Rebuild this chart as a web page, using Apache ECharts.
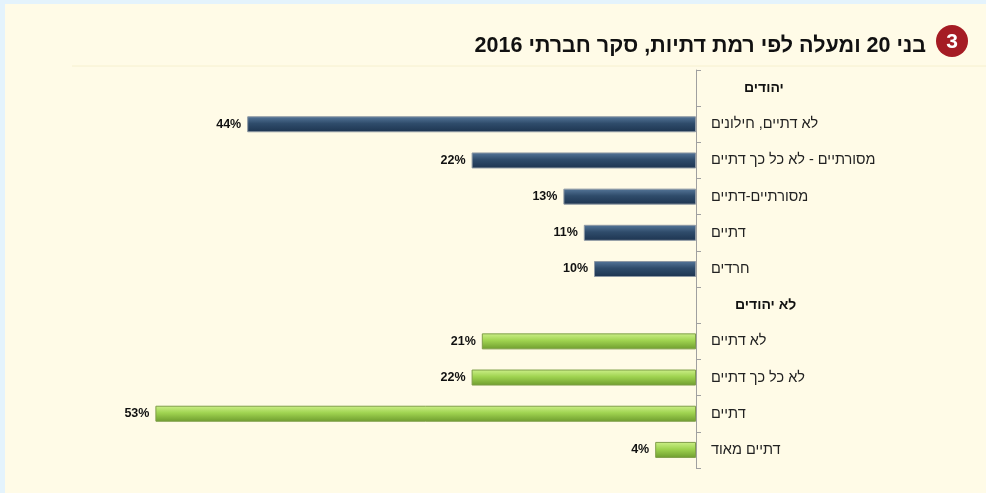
<!DOCTYPE html>
<html dir="rtl">
<head>
<meta charset="utf-8">
<script src="https://cdn.jsdelivr.net/npm/echarts@6/dist/echarts.min.js"></script>
<style>
  html, body { margin: 0; padding: 0; background: #e4f3fc; }
  #main { width: 986px; height: 493px; }
</style>
</head>
<body>
<div id="main"></div>
<script>
// categories (top to bottom), headers have no value
var categories = ['יהודים', 'לא דתיים, חילונים', 'מסורתיים - לא כל כך דתיים', 'מסורתיים-דתיים', 'דתיים', 'חרדים',
                  'לא יהודים', 'לא דתיים', 'לא כל כך דתיים', 'דתיים', 'דתיים מאוד'];
var jewsValues = ['-', 44, 22, 13, 11, 10, '-', '-', '-', '-', '-'];
var nonJewsValues = ['-', '-', '-', '-', '-', '-', '-', 21, 22, 53, 4];
var headerIdx = [0, 6];

var chartTitle = 'בני 20 ומעלה לפי רמת דתיות, סקר חברתי 2016';

var myChart = echarts.init(document.getElementById('main'));

function grad(c1, c2, c3) {
	return new echarts.graphic.LinearGradient(0, 0, 0, 1, [
		{ offset: 0, color: c1 },
		{ offset: 0.45, color: c2 },
		{ offset: 1, color: c3 }
	]);
}

var labelCfg = {
	show: true,
	position: 'left',
	distance: 6,
	formatter: '{c}%',
	fontFamily: 'Liberation Sans, Arial',
	fontWeight: 'bold',
	fontSize: 12.5,
	color: '#111'
};

var option = {
	backgroundColor: '#e4f3fc',
	textStyle: { fontFamily: 'Liberation Sans, Arial' },
	graphic: [
		{ type: 'rect', z: -10, shape: { x: 5, y: 4, width: 981, height: 489 }, style: { fill: '#fffbe7' } },
		{ type: 'line', z: -9, shape: { x1: 72, y1: 66, x2: 986, y2: 66 }, style: { stroke: '#f6f0cf', lineWidth: 1 } },
		{ type: 'circle', shape: { cx: 952, cy: 41, r: 16 }, style: { fill: '#a51c24' } },
		{ type: 'text', x: 952, y: 42, style: { text: '3', fill: '#fff', font: 'bold 21px Liberation Sans, Arial', align: 'center', verticalAlign: 'middle' } }
	],
	title: {
		text: chartTitle,
		right: 55,
		top: 30,
		textStyle: { fontFamily: 'Liberation Sans, Arial', fontWeight: 'bold', fontSize: 21.5, color: '#111' }
	},
	grid: { top: 70, bottom: 25, left: 84, right: 290 },
	xAxis: {
		type: 'value',
		inverse: true,
		min: 0,
		max: 60,
		show: false
	},
	yAxis: {
		type: 'category',
		data: categories,
		inverse: true,
		position: 'right',
		axisLine: { show: true, lineStyle: { color: '#a0a0a0' } },
		axisTick: { show: true, length: 5, lineStyle: { color: '#a0a0a0' } },
		axisLabel: {
			align: 'left',
			margin: 15,
			fontSize: 14.5,
			color: '#222',
			formatter: function (v, i) {
				if (i === headerIdx[0]) return '{h1|' + v + '}';
				if (i === headerIdx[1]) return '{h2|' + v + '}';
				return v;
			},
			rich: {
				h1: { fontWeight: 'bold', fontSize: 14, color: '#111', padding: [0, 0, 0, 33] },
				h2: { fontWeight: 'bold', fontSize: 14, color: '#111', padding: [0, 0, 0, 24] }
			}
		}
	},
	series: [{
		name: 'יהודים',
		type: 'bar',
		stack: 'a',
		barWidth: 16,
		data: jewsValues,
		itemStyle: { color: grad('#56779a', '#2f4c6b', '#1d3450'), borderColor: '#8e99a4', borderWidth: 1 },
		label: labelCfg
	}, {
		name: 'לא יהודים',
		type: 'bar',
		stack: 'a',
		barWidth: 16,
		data: nonJewsValues,
		itemStyle: { color: grad('#cdf08a', '#9fd350', '#6e9c2e'), borderColor: '#7f9e48', borderWidth: 1 },
		label: labelCfg
	}]
};
myChart.setOption(option);
</script>
</body>
</html>
